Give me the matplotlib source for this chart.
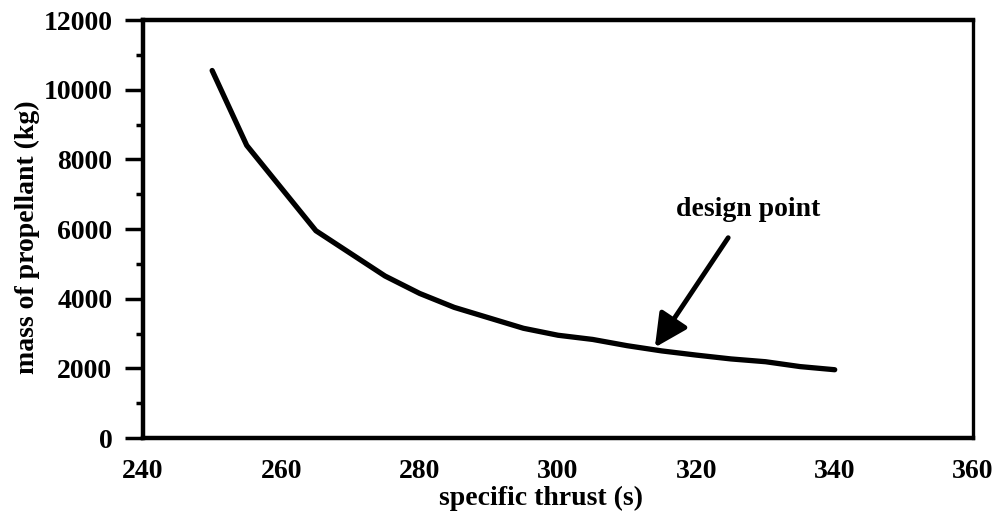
import matplotlib.pyplot as plt

# specific thrust (s) vs mass of propellant (kg)
thrust = [250, 255, 265, 270, 275, 280, 285, 290, 295, 300,
          305, 310, 315, 320, 325, 330, 335, 340]
mass = [10550, 8400, 5950, 5300, 4650, 4150, 3750, 3450, 3150, 2950,
        2830, 2650, 2500, 2380, 2270, 2190, 2050, 1960]

x_ticks = [240, 260, 280, 300, 320, 340, 360]
y_ticks = [0, 2000, 4000, 6000, 8000, 10000, 12000]

plt.rcParams['font.family'] = ['Liberation Serif', 'DejaVu Serif']
plt.rcParams['font.weight'] = 'bold'

fig = plt.figure(figsize=(9.97, 5.21), dpi=100)
ax = fig.add_axes([0.1434, 0.1593, 0.8326, 0.8023])

ax.plot(thrust, mass, color='black', lw=3.8, solid_capstyle='round')

ax.set_xlim(240, 360)
ax.set_ylim(0, 12000)
ax.set_xticks(x_ticks)
ax.set_yticks(y_ticks)
ax.set_yticks(range(1000, 12000, 2000), minor=True)

ax.tick_params(axis='x', length=0, pad=15, labelsize=20)
ax.tick_params(axis='y', which='major', direction='out', length=13,
               width=2.5, pad=9, labelsize=20)
ax.tick_params(axis='y', which='minor', direction='out', length=5, width=2.5)

for side in ['left', 'bottom', 'top']:
    ax.spines[side].set_linewidth(3.2)
ax.spines['right'].set_linewidth(2.4)

ax.set_xlabel("specific thrust (s)", fontsize=20, fontweight='bold')
ax.set_ylabel("mass of propellant (kg)", fontsize=20, fontweight='bold')
ax.xaxis.set_label_coords(0.48, -0.115)
ax.yaxis.set_label_coords(-0.124, 0.48)

ax.text(327.5, 6550, "design point", fontsize=20, fontweight='bold',
        ha='center', va='center')
ax.annotate("", xy=(314, 2600), xytext=(324.6, 5750),
            arrowprops=dict(arrowstyle='-|>,head_length=0.4,head_width=0.2',
                            color='black', lw=3.5,
                            mutation_scale=50, shrinkA=0, shrinkB=0))

fig.savefig("out.png", dpi=100)
